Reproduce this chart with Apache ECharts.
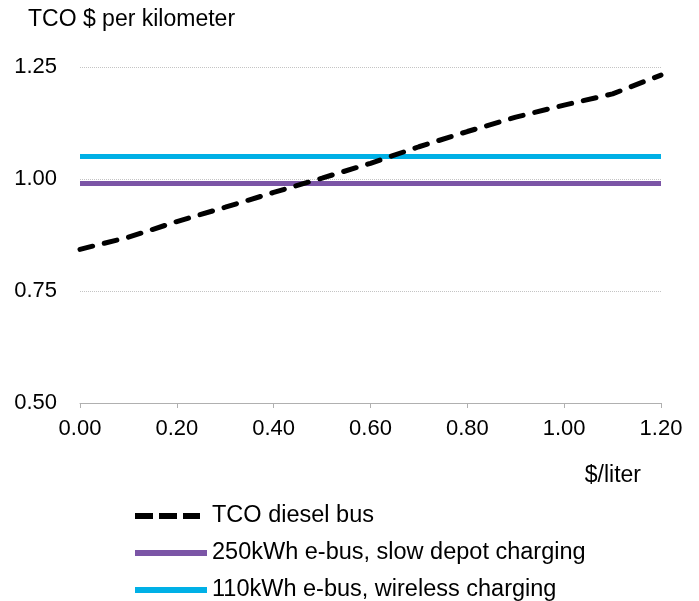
<!DOCTYPE html>
<html>
<head>
<meta charset="utf-8">
<script src="https://cdn.jsdelivr.net/npm/echarts@6/dist/echarts.min.js"></script>
<style>html,body{margin:0;padding:0;background:#fff}#c{width:699px;height:601px}</style>
</head>
<body>
<div id="c"></div>
<script>
const fuelPrice = [0.0, 0.1, 0.2, 0.3, 0.4, 0.5, 0.6, 0.7, 0.8, 0.9, 1.0, 1.1, 1.2];
const dieselTCO = [0.843, 0.870, 0.905, 0.937, 0.970, 1.002, 1.035, 1.072, 1.106, 1.138, 1.165, 1.190, 1.232];
const depotTCO = [0.99, 0.99, 0.99, 0.99, 0.99, 0.99, 0.99, 0.99, 0.99, 0.99, 0.99, 0.99, 0.99];
const wirelessTCO = [1.05, 1.05, 1.05, 1.05, 1.05, 1.05, 1.05, 1.05, 1.05, 1.05, 1.05, 1.05, 1.05];
const seriesNames = ['TCO diesel bus', '250kWh e-bus, slow depot charging', '110kWh e-bus, wireless charging'];

const pairs = arr => fuelPrice.map((x, i) => [x, arr[i]]);
const font = 'Liberation Sans, Arial, sans-serif';
const FS = 23.5;
const NS = 22;
const dashIcon = 'path://M0,0H18V6H0Z M24,0H42V6H24Z M48,0H65V6H48Z M71.9,3H72';
const solidIcon = 'path://M0,0H72V6H0Z';
const chart = echarts.init(document.getElementById('c'), null, {renderer: 'canvas'});
chart.setOption({
  animation: false,
  backgroundColor: '#fff',
  title: {
    text: 'TCO $ per kilometer', left: 28, top: 8, padding: 0,
    textStyle: {fontFamily: font, fontSize: 23, fontWeight: 'normal', color: '#000'}
  },
  grid: {left: 80, right: 38, top: 67, bottom: 198, containLabel: false},
  xAxis: {
    type: 'value', min: 0, max: 1.2, interval: 0.2,
    name: '$/liter', nameLocation: 'end', nameGap: 0,
    nameTextStyle: {fontFamily: font, fontSize: 23, color: '#000', align: 'right', verticalAlign: 'top', padding: [61, 20, 0, 0]},
    axisLine: {show: true, lineStyle: {color: '#b0b0b0', width: 1}},
    axisTick: {show: true, inside: false, length: 5, lineStyle: {color: '#b0b0b0'}},
    axisLabel: {formatter: v => v.toFixed(2), fontFamily: font, fontSize: NS, color: '#000', margin: 15},
    splitLine: {show: false}
  },
  yAxis: {
    type: 'value', min: 0.5, max: 1.25, interval: 0.25,
    axisLine: {show: false}, axisTick: {show: false},
    axisLabel: {formatter: v => v.toFixed(2), fontFamily: font, fontSize: NS, color: '#000', margin: 23},
    splitLine: {show: true, lineStyle: {type: 'dotted', color: '#c4c4c4', width: 1}}
  },
  legend: {
    orient: 'vertical', left: 135, top: 504, height: 100, padding: 0,
    itemWidth: 72, itemHeight: 6, itemGap: 13,
    textStyle: {fontFamily: font, fontSize: FS, lineHeight: 22, color: '#000'},
    data: [
      {name: seriesNames[0], icon: dashIcon},
      {name: seriesNames[1], icon: solidIcon},
      {name: seriesNames[2], icon: solidIcon}
    ]
  },
  series: [
    {
      name: seriesNames[0], type: 'line', data: pairs(dieselTCO), symbol: 'none', z: 3,
      lineStyle: {color: '#000', width: 5, type: [13, 12], cap: 'round'},
      itemStyle: {color: '#000'}
    },
    {
      name: seriesNames[1], type: 'line', data: pairs(depotTCO), symbol: 'none', z: 2,
      lineStyle: {color: '#7B55A6', width: 5},
      itemStyle: {color: '#7B55A6'}
    },
    {
      name: seriesNames[2], type: 'line', data: pairs(wirelessTCO), symbol: 'none', z: 2,
      lineStyle: {color: '#00B0E6', width: 5},
      itemStyle: {color: '#00B0E6'}
    }
  ]
});
</script>
</body>
</html>
